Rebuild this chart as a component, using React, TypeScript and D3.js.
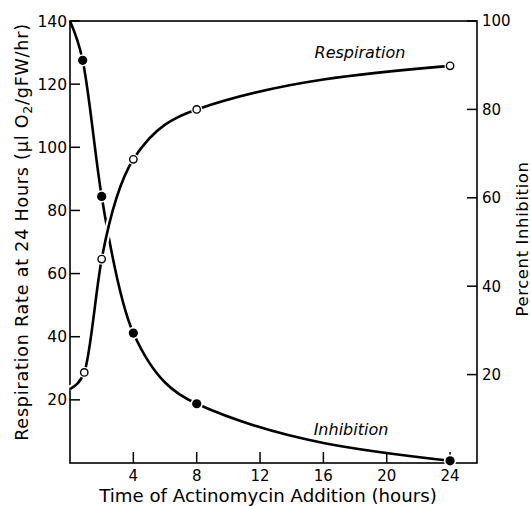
import React from "react";
import * as d3 from "d3";

// ---- data ----
const respHours = [0.9, 2, 4, 8, 24];
const respRate = [28.7, 64.6, 96.2, 112, 125.8];
const respCurveStart = 23.4; // curve value at hour 0 (no marker)

const inhibHours = [0.8, 2, 4, 8, 24];
const inhibPct = [91.1, 60.3, 29.4, 13.4, 0.5];
const inhibCurveStart = 100; // curve value at hour 0 (no marker)

const xTicks = [4, 8, 12, 16, 20, 24];
const leftTicks = [20, 40, 60, 80, 100, 120, 140];
const rightTicks = [20, 40, 60, 80, 100];

const W = 531;
const H = 506;
const L = 70, R = 477, T = 21, B = 463;
const FONT = "'DejaVu Sans', Verdana, sans-serif";

export default function App() {
  const x = d3.scaleLinear().domain([0, 25.7]).range([L, R]);
  const yL = d3.scaleLinear().domain([0, 140]).range([B, T]);
  const yR = d3.scaleLinear().domain([0, 100]).range([B, T]);

  const respPts: [number, number][] = [[0, respCurveStart], ...respHours.map((h, i) => [h, respRate[i]] as [number, number])];
  const inhibPts: [number, number][] = [[0, inhibCurveStart], ...inhibHours.map((h, i) => [h, inhibPct[i]] as [number, number])];

  const respLine = d3.line<[number, number]>().x(d => x(d[0])).y(d => yL(d[1])).curve(d3.curveMonotoneX);
  const inhibLine = d3.line<[number, number]>().x(d => x(d[0])).y(d => yR(d[1])).curve(d3.curveMonotoneX);

  return (
    <svg width={W} height={H} style={{ position: "absolute", left: 0, top: 0, background: "#fff" }} fontFamily={FONT}>
      <rect x={0} y={0} width={W} height={H} fill="#fff" />
      {/* frame */}
      <rect x={L} y={T} width={R - L} height={B - T} fill="none" stroke="#000" strokeWidth={1.6} />
      {/* x ticks */}
      {xTicks.map(t => (
        <g key={"x" + t}>
          <line x1={x(t)} x2={x(t)} y1={B} y2={B - 11} stroke="#000" strokeWidth={1.5} />
          <text x={x(t)} y={481} fontSize={15} textAnchor="middle">{t}</text>
        </g>
      ))}
      {/* left ticks */}
      {leftTicks.map(t => (
        <g key={"l" + t}>
          <line x1={L} x2={L + 10} y1={yL(t)} y2={yL(t)} stroke="#000" strokeWidth={1.5} />
          <text x={67} y={yL(t)} dy="0.36em" fontSize={15.5} textAnchor="end">{t}</text>
        </g>
      ))}
      {/* right ticks */}
      {rightTicks.map(t => (
        <g key={"r" + t}>
          <line x1={R} x2={R - 10} y1={yR(t)} y2={yR(t)} stroke="#000" strokeWidth={1.5} />
          <text x={482} y={yR(t)} dy="0.36em" fontSize={15} textAnchor="start">{t}</text>
        </g>
      ))}

      {/* inhibition curve */}
      <path d={inhibLine(inhibPts) || ""} fill="none" stroke="#000" strokeWidth={2.6} />
      {/* respiration curve with white halo to break inhibition at crossing */}
      <path d={respLine(respPts) || ""} fill="none" stroke="#fff" strokeWidth={7} />
      <path d={respLine(respPts) || ""} fill="none" stroke="#000" strokeWidth={2.6} />

      {/* markers */}
      {inhibHours.map((h, i) => (
        <g key={"im" + i}>
          <circle cx={x(h)} cy={yR(inhibPct[i])} r={6.2} fill="#fff" />
          <circle cx={x(h)} cy={yR(inhibPct[i])} r={4.6} fill="#000" />
        </g>
      ))}
      {respHours.map((h, i) => (
        <g key={"rm" + i}>
          <circle cx={x(h)} cy={yL(respRate[i])} r={5.6} fill="#fff" />
          <circle cx={x(h)} cy={yL(respRate[i])} r={3.7} fill="#fff" stroke="#000" strokeWidth={1.4} />
        </g>
      ))}

      {/* curve labels */}
      <text x={360} y={58} fontSize={16} fontStyle="italic" textAnchor="middle">Respiration</text>
      <text x={351} y={435} fontSize={16} fontStyle="italic" textAnchor="middle">Inhibition</text>

      {/* axis titles */}
      <text x={268} y={502} fontSize={18.2} textAnchor="middle">Time of Actinomycin Addition (hours)</text>
      <text transform={`translate(28, 232) rotate(-90)`} fontSize={17.5} letterSpacing={0.8} textAnchor="middle">
        Respiration Rate at 24 Hours (μl O<tspan fontSize={12.5} dy={4}>2</tspan><tspan dy={-4}>/gFW/hr)</tspan>
      </text>
      <text transform={`translate(528, 239) rotate(-90)`} fontSize={16.5} letterSpacing={0.6} textAnchor="middle">Percent Inhibition</text>
    </svg>
  );
}
